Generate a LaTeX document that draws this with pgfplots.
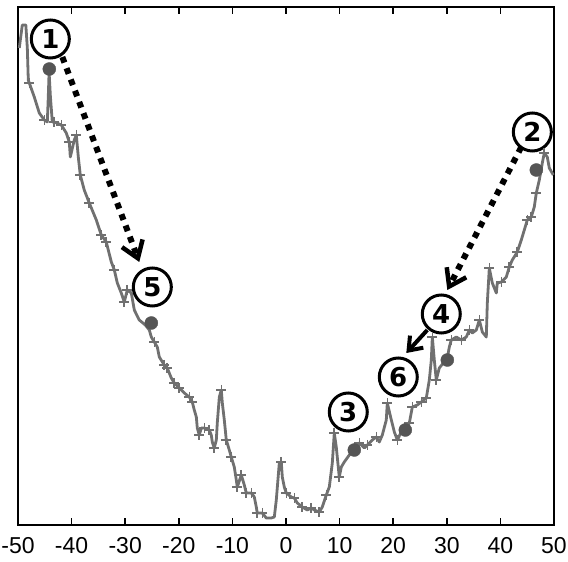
\documentclass[border=0pt]{standalone}
\usepackage{fontspec}
\setmainfont{Liberation Sans}
\newfontfamily\numfont{DejaVu Sans}
\usepackage{pgfplots}
\pgfplotsset{compat=1.18}
\usetikzlibrary{arrows.meta}
\definecolor{curve}{RGB}{112,112,112}
\definecolor{dotc}{RGB}{85,85,85}
\begin{document}
\begin{tikzpicture}
\useasboundingbox (-18pt,-37pt) rectangle (550pt,525pt);
\begin{axis}[name=ax, at={(0,0)}, anchor=south west, scale only axis, width=536pt, height=518pt,
 xmin=-50, xmax=50, ymin=0, ymax=518,
 xtick={-50,-40,...,50}, xticklabels={-50,-40,-30,-20,-10,0,10,20,30,40,50},
 ytick=\empty,
 xtick pos=both, xticklabel pos=bottom, tick align=inside,
 major tick length=7pt,
 every tick/.style={black, line width=1.5pt},
 axis line style={line width=1.8pt},
 ticklabel style={font=\fontsize{23}{26}\selectfont},
 xticklabel style={yshift=-9pt},
 clip=false,
]
\addplot[curve, line width=2.8pt, line join=round] coordinates {
(-49.76,477) (-49.20,500) (-48.54,500) (-48.26,477) (-48.08,445) (-47.89,442)
(-46.96,428) (-46.03,412) (-45.09,405) (-44.53,403) (-44.35,428) (-44.20,453)
(-43.95,428) (-43.60,403) (-43.23,403) (-41.92,400) (-40.99,392) (-40.43,383)
(-40.24,368) (-39.50,385) (-39.12,390) (-38.75,368) (-38.38,350) (-37.64,335)
(-36.70,322) (-35.39,305) (-34.46,290) (-33.53,283) (-32.59,263) (-32.03,255)
(-31.47,242) (-30.73,232) (-30.17,223) (-29.61,235) (-28.86,232) (-28.30,215)
(-27.37,205) (-26.25,200) (-25.50,195) (-25.13,188) (-24.57,183) (-24.01,178)
(-23.64,168) (-22.71,160) (-22.15,157) (-21.40,147) (-20.84,142) (-19.91,137)
(-18.97,132) (-18.04,128) (-17.48,123) (-17.11,115) (-16.73,108) (-16.55,97)
(-16.18,90) (-15.80,97) (-15.24,97) (-14.31,95) (-13.94,90) (-13.75,83)
(-13.38,77) (-13.00,85) (-12.82,102) (-12.44,128) (-12.07,135) (-11.88,122)
(-11.51,105) (-11.14,85) (-10.58,75) (-10.21,68) (-9.65,58) (-9.27,45)
(-9.09,38) (-8.34,50) (-7.78,40) (-7.41,32) (-6.47,32) (-5.91,28)
(-5.54,18) (-5.36,12) (-4.42,12) (-3.68,7) (-2.74,7) (-2.18,8)
(-1.81,25) (-1.25,62) (-0.88,63) (-0.69,48) (-0.32,38) (0.06,32)
(0.99,28) (1.55,27) (2.11,22) (3.04,18) (3.97,15) (4.72,17)
(5.28,15) (6.21,13) (6.77,18) (7.52,30) (8.08,38) (8.64,62)
(9.01,92) (9.38,78) (9.94,48) (10.32,58) (10.88,63) (11.81,70)
(12.74,75) (13.68,82) (14.61,77) (15.17,80) (16.10,85) (16.85,88)
(17.41,83) (17.97,90) (18.71,105) (18.90,122) (19.65,105) (20.21,93)
(20.77,85) (21.51,93) (22.26,95) (23.01,102) (23.57,118) (24.50,120)
(25.25,123) (26.18,127) (26.74,145) (27.11,165) (27.30,188) (27.67,165)
(28.04,145) (28.60,157) (30.10,167) (30.47,178) (30.84,185) (31.78,188)
(32.71,185) (33.64,188) (34.20,195) (34.76,192) (35.51,195) (36.07,205)
(36.63,193) (37.37,188) (37.56,222) (37.93,257) (38.49,242) (39.24,232)
(39.42,242) (40.17,243) (41.10,248) (41.66,258) (42.22,265) (43.15,273)
(43.90,285) (44.46,295) (45.02,305) (45.76,308) (46.32,318) (46.70,332)
(47.26,345) (47.82,362) (48.19,372) (48.75,368) (49.12,357) (49.87,350)
};
\addplot[only marks, mark=+, mark size=5pt, curve, line width=1.6pt] coordinates {
(-47.89,442) (-45.09,405) (-43.23,403) (-41.92,400) (-40.43,383) (-39.12,390)
(-38.38,350) (-36.70,322) (-34.46,290) (-33.53,283) (-32.03,255) (-30.17,223)
(-29.61,235) (-24.57,183) (-22.71,160) (-22.15,157) (-20.84,142) (-19.91,137)
(-18.04,128) (-17.48,123) (-16.18,90) (-15.24,97) (-14.31,95) (-13.38,77)
(-12.07,135) (-11.14,85) (-10.21,68) (-9.09,38) (-8.34,50) (-7.41,32)
(-6.47,32) (-5.36,12) (-4.42,12) (-0.88,63) (0.06,32) (1.55,27)
(3.04,18) (4.72,17) (6.21,13) (7.52,30) (9.01,92) (9.94,48)
(13.68,82) (15.17,80) (16.85,88) (18.90,122) (20.77,85) (23.01,102)
(23.57,118) (25.25,123) (26.18,127) (27.30,188) (28.04,145) (30.84,185)
(32.71,185) (34.20,195) (36.07,205) (37.93,257) (40.17,243) (41.66,258)
(43.15,273) (45.02,305) (45.76,308) (46.70,332) (48.19,372)
};
\addplot[only marks, mark=*, mark size=6.5pt, dotc] coordinates {
(-44.16,456) (46.70,355) (12.74,75) (30.10,165) (-25.13,202) (22.26,95)
};
\draw[line width=6pt, dash pattern=on 6pt off 6pt, -{Straight Barb[length=16pt,width=22pt,line width=4.5pt]}]
  (axis cs:-41.73,468) -- (axis cs:-27.37,263);
\draw[line width=6pt, dash pattern=on 6pt off 6pt, -{Straight Barb[length=16pt,width=22pt,line width=4.5pt]}]
  (axis cs:43.90,378) -- (axis cs:30.10,235);
\draw[line width=4pt, -{Straight Barb[length=12pt,width=18pt,line width=4pt]}]
  (axis cs:26.36,195) -- (axis cs:22.45,172);
\tikzset{cnum/.style={circle, draw, line width=3pt, fill=white, minimum size=38pt, inner sep=0pt, font=\numfont\bfseries\fontsize{26}{26}\selectfont}}
\node[cnum] at (axis cs:-43.97,486) {1};
\node[cnum] at (axis cs:45.96,393) {2};
\node[cnum] at (axis cs:11.62,113) {3};
\node[cnum] at (axis cs:28.97,211) {4};
\node[cnum] at (axis cs:-24.94,238) {5};
\node[cnum] at (axis cs:20.95,148) {6};
\end{axis}
\end{tikzpicture}
\end{document}
